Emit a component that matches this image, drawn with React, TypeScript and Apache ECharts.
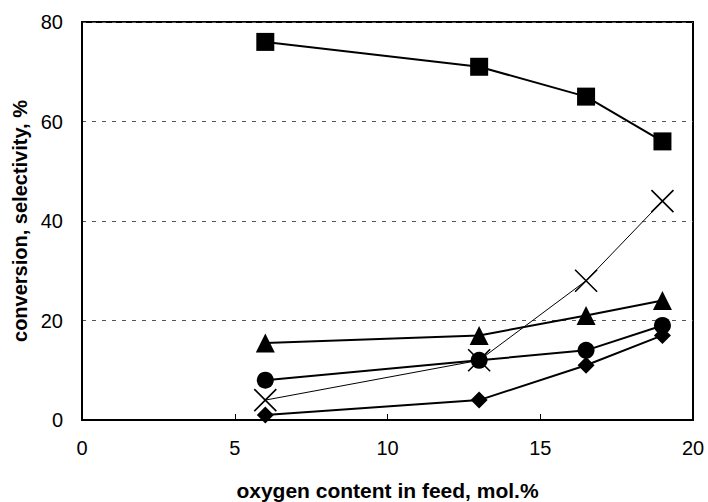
import React, { useEffect, useRef } from "react";
import * as echarts from "echarts";

const oxygen = [6, 13, 16.5, 19];
const squares = [76, 71, 65, 56];
const crosses = [4, 12, 28, 44];
const triangles = [15.5, 17, 21, 24];
const circles = [8, 12, 14, 19];
const diamonds = [1, 4, 11, 17];

const pair = (ys: number[]) => oxygen.map((x, i) => [x, ys[i]]);

export default function App() {
  const ref = useRef<HTMLDivElement>(null);
  useEffect(() => {
    const chart = echarts.init(ref.current!, null, { renderer: "svg" });
    const font = "Liberation Sans, Arial, sans-serif";
    const line = (data: number[], symbol: string, size: number, width = 2) => ({
      type: "line",
      data: pair(data),
      symbol,
      symbolSize: size,
      showSymbol: true,
      lineStyle: { color: "#000", width },
      itemStyle: { color: "#000", borderColor: "#000", borderWidth: 0 },
      z: 3,
    });
    chart.setOption({
      animation: false,
      backgroundColor: "#fff",
      grid: {
        left: 82,
        right: 15,
        top: 22,
        bottom: 82,
        show: true,
        borderColor: "#000",
        borderWidth: 2,
        outerBoundsMode: "none",
        containLabel: false,
      },
      xAxis: {
        type: "value",
        min: 0,
        max: 20,
        interval: 5,
        name: "oxygen content in feed, mol.%",
        nameLocation: "middle",
        nameGap: 60,
        nameTextStyle: { fontFamily: font, fontSize: 21, fontWeight: "bold", color: "#000" },
        axisLine: { show: true, lineStyle: { color: "#000", width: 2 } },
        axisTick: { show: true, inside: true, length: 6, lineStyle: { color: "#000", width: 1 } },
        axisLabel: { fontFamily: font, fontSize: 20, color: "#000", margin: 18 },
        splitLine: { show: false },
      },
      yAxis: {
        type: "value",
        min: 0,
        max: 80,
        interval: 20,
        name: "conversion, selectivity, %",
        nameLocation: "middle",
        nameGap: 50,
        nameRotate: 90,
        nameTextStyle: { fontFamily: font, fontSize: 20, fontWeight: "bold", color: "#000" },
        axisLine: { show: true, lineStyle: { color: "#000", width: 2 } },
        axisTick: { show: false },
        axisLabel: { fontFamily: font, fontSize: 20, color: "#000", margin: 19 },
        splitLine: { show: true, lineStyle: { color: "#555", type: [4, 6], width: 1 } },
      },
      series: [
        line(squares, "rect", 18),
        line(triangles, "triangle", 19),
        line(circles, "circle", 17),
        line(diamonds, "diamond", 17),
        {
          type: "line",
          data: pair(crosses),
          symbol: "path://M0,0 L10,10 M10,0 L0,10",
          symbolSize: 22,
          showSymbol: true,
          lineStyle: { color: "#000", width: 1 },
          itemStyle: { color: "none", borderColor: "#000", borderWidth: 1.6 },
          z: 2,
        },
      ],
    });
    return () => chart.dispose();
  }, []);
  return (
    <div
      ref={ref}
      style={{ position: "absolute", left: 0, top: 0, width: 708, height: 502 }}
    />
  );
}
